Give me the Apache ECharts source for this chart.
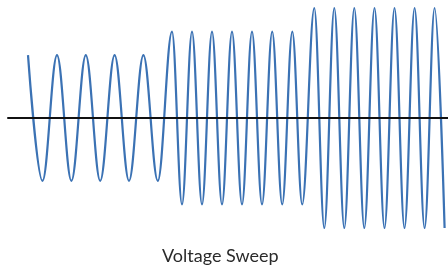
<!DOCTYPE html>
<html>
<head>
<meta charset="utf-8">
<script src="https://cdn.jsdelivr.net/npm/echarts@6/dist/echarts.min.js"></script>
<style>
html,body{margin:0;padding:0;background:#fff;}
#c{width:448px;height:272px;}
</style>
</head>
<body>
<div id="c"></div>
<script>
// Extremes (peaks and troughs) of the sweep
const chartTitle = "Voltage Sweep";
const segment1Times = [0, 1.45, 2.9, 4.34, 5.78, 7.22, 8.66, 10.1, 11.54, 12.98];
const segment1Volts = [2.86, -2.86, 2.86, -2.86, 2.86, -2.86, 2.86, -2.86, 2.86, -2.86];
const segment2Times = [14.4, 15.4, 16.4, 17.4, 18.4, 19.4, 20.4, 21.4, 22.4, 23.4, 24.42, 25.42, 26.43, 27.42];
const segment2Volts = [3.93, -3.93, 3.93, -3.93, 3.93, -3.93, 3.93, -3.93, 3.93, -3.93, 3.93, -3.93, 3.93, -3.93];
const segment3Times = [28.63, 29.63, 30.63, 31.63, 32.63, 33.63, 34.65, 35.65, 36.65, 37.65, 38.66, 39.66, 40.66, 41.66];
const segment3Volts = [5, -5, 5, -5, 5, -5, 5, -5, 5, -5, 5, -5, 5, -5];

const times = segment1Times.concat(segment2Times, segment3Times);
const volts = segment1Volts.concat(segment2Volts, segment3Volts);
const seriesData = times.map((t, i) => [t, volts[i]]);

const chart = echarts.init(document.getElementById('c'), null, {renderer: 'canvas'});
chart.setOption({
  animation: false,
  backgroundColor: '#ffffff',
  title: {
    text: chartTitle,
    left: 157,
    top: 242,
    textStyle: {fontFamily: 'Lato', fontWeight: 'normal', fontSize: 18, color: '#2a2a2a'}
  },
  grid: {left: 8, right: 0, top: 8, height: 220},
  xAxis: {
    type: 'value', min: -2, max: 42, z: 10,
    axisLine: {show: true, onZero: true, lineStyle: {color: '#111', width: 2}},
    axisTick: {show: false}, axisLabel: {show: false}, splitLine: {show: false}
  },
  yAxis: {
    type: 'value', min: -5, max: 5,
    axisLine: {show: false}, axisTick: {show: false}, axisLabel: {show: false}, splitLine: {show: false}
  },
  series: [{
    type: 'line',
    data: seriesData,
    smooth: 0.36,
    smoothMonotone: 'x',
    showSymbol: false,
    clip: false,
    lineStyle: {color: '#3b72b4', width: 2.2}
  }]
});
</script>
</body>
</html>
